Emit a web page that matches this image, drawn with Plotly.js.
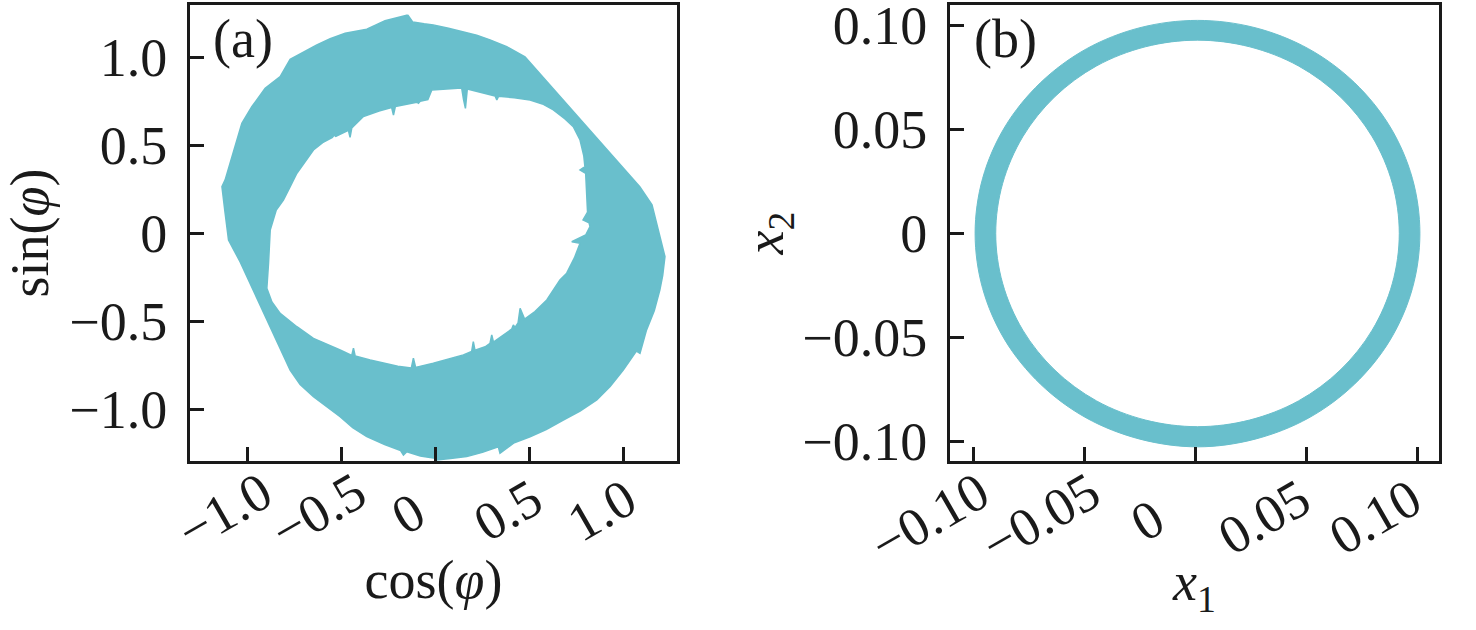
<!DOCTYPE html>
<html><head><meta charset="utf-8">
<script src="https://cdn.plot.ly/plotly-3.0.1.min.js"></script>
<style>body{margin:0;background:#fff}#chart{width:1476px;height:630px}</style>
</head><body><div id="chart"></div>
<script>
// Panel (a): outer edge of the filled band (cos φ, sin φ), read clockwise from the top
const aOuterX = [-0.147,-0.120,-0.060,-0.011,0.070,0.149,0.220,0.291,0.380,0.477,1.088,1.153,1.186,1.222,1.210,1.195,1.165,1.124,1.089,1.070,1.000,0.930,0.859,0.770,0.681,0.590,0.504,0.420,0.344,0.335,0.250,0.167,0.080,0.007,-0.002,-0.080,-0.152,-0.170,-0.185,-0.270,-0.365,-0.440,-0.507,-0.580,-0.649,-0.720,-0.773,-1.039,-1.101,-1.119,-1.136,-1.119,-1.074,-1.030,-0.977,-0.906,-0.826,-0.773,-0.700,-0.631,-0.560,-0.480,-0.365,-0.268];
const aOuterY = [1.240,1.200,1.190,1.184,1.165,1.145,1.125,1.099,1.060,1.003,0.265,0.161,0.019,-0.133,-0.240,-0.322,-0.440,-0.549,-0.682,-0.670,-0.777,-0.870,-0.947,-1.010,-1.061,-1.115,-1.156,-1.190,-1.250,-1.213,-1.245,-1.269,-1.280,-1.288,-1.278,-1.265,-1.241,-1.260,-1.235,-1.200,-1.156,-1.105,-1.042,-0.985,-0.928,-0.860,-0.777,-0.163,-0.038,0.114,0.265,0.303,0.473,0.625,0.719,0.824,0.890,0.989,1.030,1.070,1.105,1.136,1.159,1.208];
// Panel (a): inner edge (hole), read clockwise from the top
const aInnerX = [-0.019,0.060,0.140,0.150,0.160,0.170,0.250,0.318,0.327,0.336,0.420,0.504,0.570,0.628,0.690,0.734,0.770,0.790,0.796,0.770,0.800,0.805,0.810,0.786,0.818,0.823,0.800,0.726,0.770,0.740,0.699,0.663,0.593,0.530,0.475,0.451,0.440,0.424,0.415,0.406,0.327,0.309,0.300,0.291,0.265,0.211,0.202,0.193,0.149,0.060,-0.011,-0.105,-0.117,-0.128,-0.200,-0.347,-0.427,-0.436,-0.445,-0.507,-0.649,-0.737,-0.826,-0.870,-0.897,-0.888,-0.879,-0.847,-0.809,-0.770,-0.737,-0.649,-0.600,-0.548,-0.539,-0.530,-0.463,-0.454,-0.445,-0.383,-0.300,-0.233,-0.223,-0.213,-0.120,-0.099,-0.090,-0.081,-0.040];
const aInnerY = [0.814,0.822,0.826,0.760,0.710,0.820,0.800,0.780,0.757,0.778,0.770,0.757,0.735,0.701,0.650,0.606,0.530,0.440,0.378,0.360,0.340,0.227,0.120,0.076,0.060,0.038,-0.010,-0.048,-0.057,-0.140,-0.227,-0.265,-0.379,-0.445,-0.488,-0.426,-0.510,-0.535,-0.521,-0.545,-0.606,-0.618,-0.578,-0.625,-0.645,-0.665,-0.616,-0.672,-0.691,-0.720,-0.739,-0.762,-0.710,-0.766,-0.755,-0.720,-0.697,-0.653,-0.694,-0.663,-0.597,-0.531,-0.455,-0.390,-0.313,-0.170,0.019,0.132,0.189,0.270,0.341,0.473,0.515,0.545,0.558,0.550,0.585,0.545,0.598,0.663,0.695,0.715,0.672,0.720,0.740,0.745,0.739,0.750,0.760];
// Panel (b): outer and inner edges of the ring (x1, x2)
const bOuterX = [0.1012,0.0978,0.0878,0.0718,0.0511,0.0269,0.0010,-0.0249,-0.0491,-0.0698,-0.0858,-0.0958,-0.0992,-0.0958,-0.0858,-0.0698,-0.0491,-0.0249,0.0010,0.0269,0.0511,0.0718,0.0878,0.0978];
const bOuterY = [0.0000,0.0265,0.0512,0.0724,0.0887,0.0989,0.1024,0.0989,0.0887,0.0724,0.0512,0.0265,0.0000,-0.0265,-0.0512,-0.0724,-0.0887,-0.0989,-0.1026,-0.0989,-0.0887,-0.0724,-0.0512,-0.0265];
const bInnerX = [0.0919,0.0888,0.0797,0.0653,0.0465,0.0245,0.0010,-0.0225,-0.0445,-0.0633,-0.0777,-0.0868,-0.0899,-0.0868,-0.0777,-0.0633,-0.0445,-0.0225,0.0010,0.0245,0.0465,0.0653,0.0797,0.0888];
const bInnerY = [0.0000,0.0240,0.0465,0.0657,0.0805,0.0897,0.0929,0.0897,0.0805,0.0657,0.0465,0.0240,0.0000,-0.0240,-0.0465,-0.0657,-0.0805,-0.0897,-0.0929,-0.0897,-0.0805,-0.0657,-0.0465,-0.0240];
// Tick labels
const aTickVals = [-1.0,-0.5,0,0.5,1.0];
const aTickText = ['\u22121.0','\u22120.5','0','0.5','1.0'];
const bTickVals = [-0.10,-0.05,0,0.05,0.10];
const bTickText = ['\u22120.10','\u22120.05','0','0.05','0.10'];

const TEAL = '#69bfcc';
const INK = '#1a1a1a';
const FONT = 'Liberation Serif, Times New Roman, serif';
const NB = '\u00a0';

function closed(arr){ return arr.concat([arr[0]]); }
// rotated x labels: pad on the right so every label is centred the same way
function padCentre(labels, widest){
  const w = {'\u2212':0.564,'.':0.25};
  const width = s => Array.from(s).reduce((t,c)=>t+(w[c]!==undefined?w[c]:0.5),0);
  return labels.map(s => { const n = Math.round((widest/2 - width(s)/2)/0.25); return s + NB.repeat(Math.max(0,n)); });
}

const traces = [
  {x: closed(aOuterX), y: closed(aOuterY), xaxis:'x', yaxis:'y', mode:'lines', fill:'toself', fillcolor:TEAL, line:{width:1.5, color:TEAL}, hoverinfo:'skip'},
  {x: closed(aInnerX), y: closed(aInnerY), xaxis:'x3', yaxis:'y', mode:'lines', fill:'toself', fillcolor:'#ffffff', line:{width:1.5, color:TEAL}, hoverinfo:'skip'},
  {x: closed(bOuterX), y: closed(bOuterY), xaxis:'x2', yaxis:'y2', mode:'lines', fill:'toself', fillcolor:TEAL, line:{width:1, color:TEAL, shape:'spline'}, hoverinfo:'skip'},
  {x: closed(bInnerX), y: closed(bInnerY), xaxis:'x4', yaxis:'y2', mode:'lines', fill:'toself', fillcolor:'#ffffff', line:{width:1, color:TEAL, shape:'spline'}, hoverinfo:'skip'}
];

const common = {
  showline:true, linewidth:3, linecolor:INK, mirror:true,
  ticks:'inside', ticklen:14, tickwidth:3, tickcolor:INK,
  showgrid:false, zeroline:false, tickmode:'array', ticklabeloverflow:'allow',
  tickfont:{family:FONT, size:54, color:INK}
};
// label-carrying x axes (same range as the framed axes) sitting a few px above the frame bottom
const labelAxis = {
  anchor:'free', position:0.022, showline:false, ticks:'', showgrid:false, zeroline:false,
  tickmode:'array', tickangle:-30, ticklabeloverflow:'allow',
  tickfont:{family:FONT, size:54, color:INK}
};
const titleFont = {family:FONT, size:54, color:INK};

const layout = {
  width:1476, height:630,
  margin:{l:190, r:37, t:5, b:169},
  paper_bgcolor:'#ffffff', plot_bgcolor:'#ffffff',
  showlegend:false,
  xaxis: Object.assign({}, common, {domain:[0,0.3899], range:[-1.306,1.286], tickvals:aTickVals, showticklabels:false,
    title:{text:'cos(<i>φ</i>)', font:titleFont, standoff:98}}),
  xaxis3: Object.assign({}, labelAxis, {overlaying:'x', range:[-1.306,1.286], tickvals:aTickVals, ticktext:padCentre(aTickText,1.814), ticklabelshift:15}),
  yaxis: Object.assign({}, common, {domain:[0,1], range:[-1.294,1.297], tickvals:aTickVals, ticktext:aTickText, ticklabelstandoff:9,
    title:{text:'sin(<i>φ</i>)', font:titleFont, standoff:4}}),
  xaxis2: Object.assign({}, common, {anchor:'y2', domain:[0.6085,1], range:[-0.1105,0.1098], tickvals:bTickVals, showticklabels:false,
    title:{text:'<i>x</i><sub>1</sub>', font:titleFont, standoff:100}}),
  xaxis4: Object.assign({}, labelAxis, {overlaying:'x2', range:[-0.1105,0.1098], tickvals:bTickVals, ticktext:padCentre(bTickText,2.314), ticklabelshift:6}),
  yaxis2: Object.assign({}, common, {anchor:'x2', domain:[0,1], range:[-0.1094,0.1098], tickvals:bTickVals, ticktext:bTickText, ticklabelstandoff:9,
    title:{text:'<i>x</i><sub>2</sub>', font:titleFont, standoff:2}}),
  annotations:[
    {text:'(a)', xref:'x domain', yref:'y domain', x:0.044, y:0.995, xanchor:'left', yanchor:'top', showarrow:false, font:{family:FONT, size:54, color:INK}},
    {text:'(b)', xref:'x2 domain', yref:'y2 domain', x:0.044, y:0.995, xanchor:'left', yanchor:'top', showarrow:false, font:{family:FONT, size:54, color:INK}}
  ]
};

Plotly.newPlot('chart', traces, layout, {displayModeBar:false, staticPlot:true});
</script>
</body></html>
